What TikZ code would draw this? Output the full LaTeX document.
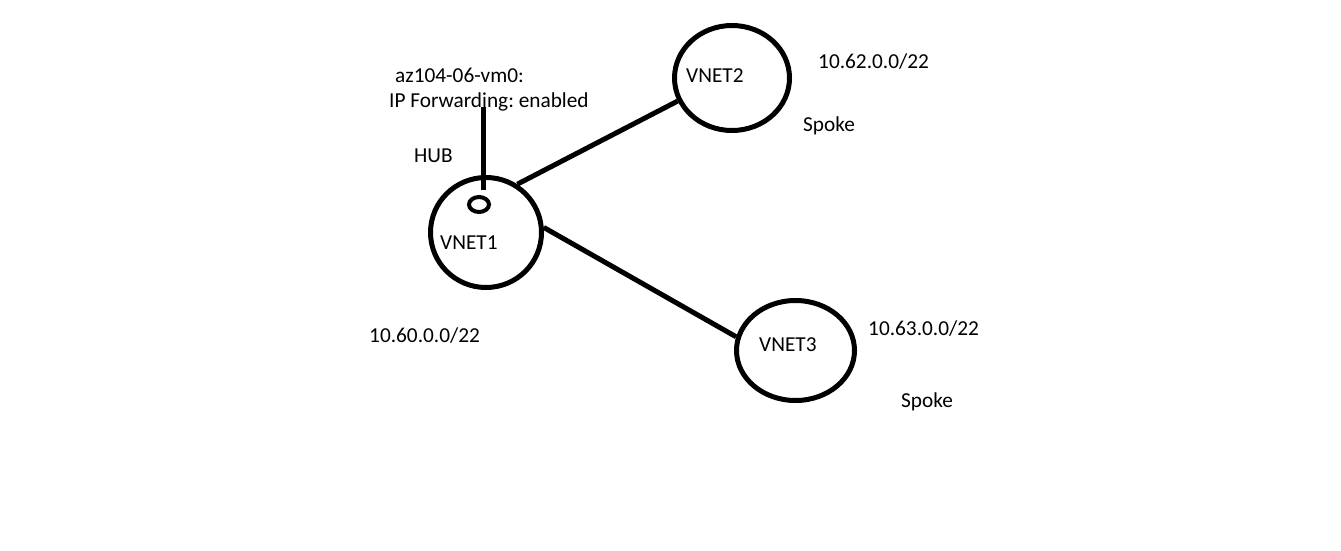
\documentclass[tikz,border=0pt]{standalone}
\usepackage{fontspec}
\setmainfont{Carlito}
\usetikzlibrary{shapes.geometric}
\frenchspacing
\tikzset{
  netshape/.style={ellipse, draw=black, line width=5pt, inner sep=0pt},
  link/.style={draw=black, line width=5pt},
  lbl/.style={anchor=base west, inner sep=0pt, text=black, font=\fontsize{21.3}{25}\selectfont\frenchspacing},
}
\begin{document}
\begin{tikzpicture}[x=1pt,y=-1pt]
\useasboundingbox[fill=white] (0,0) rectangle (1341,551);
% ellipses
\node[netshape, minimum width=111pt, minimum height=110pt] (v1) at (486,232.5) {};
\node[netshape, minimum width=115pt, minimum height=105pt] (v2) at (732,78) {};
\node[netshape, minimum width=118pt, minimum height=100pt] (v3) at (795.5,350.5) {};
\node[ellipse, draw=black, line width=4pt, inner sep=0pt, minimum width=20pt, minimum height=15pt] (vm) at (479,204.5) {};
% vm line
\coordinate (vmtop) at (483,107);
\coordinate (vmbot) at (483,190);
\draw[link] (vmtop) -- (vmbot);
% links
\draw[link] (v1.57) -- (v2.203);
\draw[link] (v1.5) -- (v3.167);
% labels
\node[lbl] (t1) at (395,82) {az104-06-vm0:};
\node[lbl] (t2) at (389,107) {IP Forwarding: enabled};
\node[lbl] (hub) at (414,162) {HUB};
\node[lbl] (n1) at (440,249) {VNET1};
\node[lbl] (n2) at (686,82) {VNET2};
\node[lbl] (n3) at (759,351) {VNET3};
\node[lbl] (a1) at (369,342) {10.60.0.0/22};
\node[lbl] (a2) at (818,68) {10.62.0.0/22};
\node[lbl] (a3) at (868,335) {10.63.0.0/22};
\node[lbl] (s2) at (803,131) {Spoke};
\node[lbl] (s3) at (901,407) {Spoke};
\end{tikzpicture}
\end{document}
